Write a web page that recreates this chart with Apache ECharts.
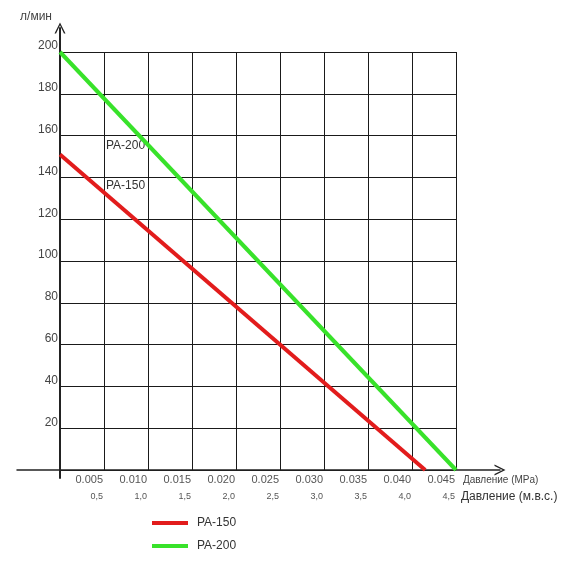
<!DOCTYPE html>
<html><head><meta charset="utf-8">
<script src="https://cdn.jsdelivr.net/npm/echarts@6/dist/echarts.min.js"></script>
<style>html,body{margin:0;padding:0;background:#fff}#c{width:570px;height:570px}</style>
</head><body><div id="c"></div>
<script>
const seriesNames = ['PA-150', 'PA-200'];
const pa150Pressure = [0, 0.0415];
const pa150Flow = [151, 0];
const pa200Pressure = [0, 0.045];
const pa200Flow = [200, 0];
const mpaTicks = ['0.005','0.010','0.015','0.020','0.025','0.030','0.035','0.040','0.045'];
const mvsTicks = ['0,5','1,0','1,5','2,0','2,5','3,0','3,5','4,0','4,5'];
const yTicks = [20,40,60,80,100,120,140,160,180,200];

const FONT = '"Liberation Sans", "DejaVu Sans", sans-serif';
const chart = echarts.init(document.getElementById('c'), null, {renderer: 'canvas'});
const pair = (xs, ys) => xs.map((x, i) => [x, ys[i]]);
const chevronUp = 'path://M0,10 L5,0 L10,10 L8.6,10 L5,2.6 L1.4,10 Z';

chart.setOption({
  animation: false,
  backgroundColor: '#fff',
  textStyle: {fontFamily: FONT},
  grid: [
    {left: 60, right: 114, top: 52, bottom: 100},
    {left: 17, right: 70, top: 28, bottom: 92}
  ],
  xAxis: [
    {
      gridIndex: 0, type: 'value', min: 0, max: 0.045, interval: 0.005,
      axisLine: {show: false}, axisTick: {show: false},
      splitLine: {show: true, lineStyle: {color: '#1a1a1a', width: 1}},
      axisLabel: {
        show: true, margin: 2, align: 'right', padding: [0, 1, 0, 0],
        showMinLabel: false,
        formatter: function (v) {
          const i = Math.round(v / 0.005) - 1;
          if (i < 0 || i >= mpaTicks.length) return '';
          return '{a|' + mpaTicks[i] + '}\n{b|' + mvsTicks[i] + '}';
        },
        rich: {
          a: {fontSize: 11, lineHeight: 16, color: '#555', fontFamily: FONT, align: 'right'},
          b: {fontSize: 9, lineHeight: 18, color: '#555', fontFamily: FONT, align: 'right'}
        }
      },
      name: '{a|Давление (MPa)}\n{b|Давление (м.в.с.)}',
      nameLocation: 'end', nameGap: 3,
      nameTextStyle: {
        align: 'left', verticalAlign: 'top', padding: [2, 0, 0, 0],
        rich: {
          a: {fontSize: 10, lineHeight: 16, color: '#444', fontFamily: FONT, align: 'left'},
          b: {fontSize: 12, lineHeight: 18, color: '#333', fontFamily: FONT, align: 'left', padding: [0, 0, 0, -2]}
        }
      }
    },
    {
      gridIndex: 1, type: 'value', min: -43, max: 440,
      axisLine: {show: true, onZero: true, symbol: ['none', chevronUp], symbolSize: [11, 14], lineStyle: {color: '#222', width: 1.5}},
      axisTick: {show: false}, axisLabel: {show: false}, splitLine: {show: false}
    }
  ],
  yAxis: [
    {
      gridIndex: 0, type: 'value', min: 0, max: 200, interval: 20,
      axisLine: {show: false}, axisTick: {show: false},
      splitLine: {show: true, lineStyle: {color: '#1a1a1a', width: 1}},
      axisLabel: {
        show: true, margin: 2, verticalAlign: 'bottom', padding: [0, 0, 0, 0],
        color: '#444', fontSize: 12, fontFamily: FONT,
        formatter: function (v) { return yTicks.indexOf(v) >= 0 ? String(v) : ''; }
      },
      name: 'л/мин', nameLocation: 'end', nameGap: 35,
      nameTextStyle: {align: 'right', verticalAlign: 'middle', padding: [0, 8, 0, 0], color: '#444', fontSize: 12, fontFamily: FONT}
    },
    {
      gridIndex: 1, type: 'value', min: -8, max: 442,
      axisLine: {show: true, onZero: true, symbol: ['none', chevronUp], symbolSize: [11, 14], lineStyle: {color: '#222', width: 2}},
      axisTick: {show: false}, axisLabel: {show: false}, splitLine: {show: false}
    }
  ],
  legend: {
    orient: 'vertical', left: 147, top: 512, itemGap: 11,
    icon: 'rect', itemWidth: 36, itemHeight: 4,
    textStyle: {fontSize: 12, color: '#333', fontFamily: FONT, padding: [0, 0, 0, 4]},
    data: seriesNames
  },
  series: [
    {
      name: seriesNames[0], type: 'line', xAxisIndex: 0, yAxisIndex: 0,
      data: pair(pa150Pressure, pa150Flow), symbol: 'none',
      lineStyle: {color: '#e21c1c', width: 4}, itemStyle: {color: '#e21c1c'}, z: 5
    },
    {
      name: seriesNames[1], type: 'line', xAxisIndex: 0, yAxisIndex: 0,
      data: pair(pa200Pressure, pa200Flow), symbol: 'none',
      lineStyle: {color: '#38e22a', width: 4}, itemStyle: {color: '#38e22a'}, z: 5
    }
  ],
  graphic: [
    {type: 'text', left: 106, top: 140, style: {text: 'PA-200', fontSize: 12, fill: '#333', fontFamily: FONT}},
    {type: 'text', left: 106, top: 180, style: {text: 'PA-150', fontSize: 12, fill: '#333', fontFamily: FONT}}
  ]
});
</script>
</body></html>
